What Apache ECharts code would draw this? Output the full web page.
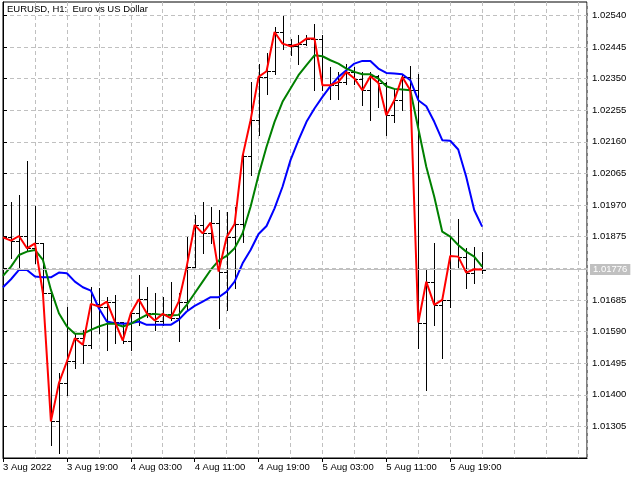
<!DOCTYPE html>
<html>
<head>
<meta charset="utf-8">
<script src="https://cdn.jsdelivr.net/npm/echarts@6/dist/echarts.min.js"></script>
<style>html,body{margin:0;padding:0;background:#fff;}#c{width:640px;height:480px;}</style>
</head>
<body>
<div id="c"></div>
<script>
// Hourly bars, index 0 = 3 Aug 2022 11:00
const barIndex = Array.from({length: 61}, (_, i) => i);
const opens = [1.01877,1.01873,1.01863,1.01877,1.01840,1.01855,1.01705,1.01320,1.01435,1.01500,1.01570,1.01550,1.01673,1.01665,1.01680,1.01620,1.01563,1.01645,1.01687,1.01645,1.01623,1.01643,1.01630,1.01680,1.01785,1.01910,1.01885,1.01917,1.01770,1.01873,1.01913,1.02117,1.02225,1.02355,1.02372,1.02490,1.02455,1.02447,1.02453,1.02470,1.02470,1.02330,1.02330,1.02340,1.02370,1.02350,1.02315,1.02357,1.02337,1.02240,1.02285,1.02355,1.02315,1.01617,1.01740,1.01670,1.01685,1.01817,1.01815,1.01767,1.01777];
const highs = [1.01880,1.01980,1.02000,1.02102,1.01967,1.01857,1.01705,1.01465,1.01665,1.01585,1.01595,1.01725,1.01720,1.01695,1.01700,1.01620,1.01650,1.01760,1.01725,1.01705,1.01695,1.01740,1.01705,1.01875,1.01940,1.01980,1.01965,1.01955,1.01950,1.01965,1.02125,1.02340,1.02395,1.02427,1.02505,1.02537,1.02470,1.02480,1.02480,1.02515,1.02480,1.02385,1.02370,1.02395,1.02385,1.02370,1.02370,1.02360,1.02340,1.02320,1.02360,1.02387,1.02365,1.01777,1.01857,1.01690,1.01870,1.01927,1.01840,1.01845,1.01828];
const lows = [1.01860,1.01810,1.01785,1.01835,1.01795,1.01655,1.01250,1.01225,1.01400,1.01480,1.01495,1.01540,1.01585,1.01535,1.01555,1.01555,1.01535,1.01610,1.01635,1.01595,1.01610,1.01625,1.01563,1.01655,1.01785,1.01825,1.01855,1.01600,1.01655,1.01720,1.01860,1.02060,1.02180,1.02305,1.02363,1.02440,1.02420,1.02395,1.02450,1.02315,1.02315,1.02290,1.02290,1.02335,1.02335,1.02270,1.02225,1.02265,1.02180,1.02220,1.02255,1.02310,1.01540,1.01415,1.01610,1.01510,1.01665,1.01785,1.01720,1.01735,1.01765];
const closes = [1.01873,1.01863,1.01877,1.01840,1.01855,1.01705,1.01320,1.01435,1.01500,1.01570,1.01550,1.01673,1.01665,1.01680,1.01620,1.01563,1.01645,1.01687,1.01645,1.01623,1.01643,1.01630,1.01680,1.01785,1.01910,1.01885,1.01917,1.01770,1.01873,1.01913,1.02117,1.02225,1.02355,1.02372,1.02490,1.02455,1.02447,1.02453,1.02470,1.02470,1.02330,1.02330,1.02340,1.02370,1.02350,1.02315,1.02357,1.02337,1.02240,1.02285,1.02355,1.02315,1.01617,1.01740,1.01670,1.01685,1.01817,1.01815,1.01767,1.01777,1.01776];
const maFast = [1.01757,1.01785,1.01820,1.01830,1.01835,1.01805,1.01715,1.01645,1.01605,1.01583,1.01583,1.01595,1.01605,1.01613,1.01613,1.01605,1.01613,1.01627,1.01640,1.01643,1.01640,1.01638,1.01640,1.01670,1.01705,1.01740,1.01775,1.01803,1.01817,1.01840,1.01885,1.01965,1.02060,1.02145,1.02220,1.02280,1.02320,1.02360,1.02390,1.02420,1.02417,1.02405,1.02395,1.02380,1.02370,1.02363,1.02363,1.02350,1.02327,1.02319,1.02317,1.02315,1.02200,1.02085,1.01995,1.01890,1.01875,1.01850,1.01830,1.01815,1.01785];
const maSlow = [1.01723,1.01747,1.01775,1.01775,1.01755,1.01753,1.01753,1.01767,1.01765,1.01740,1.01723,1.01713,1.01660,1.01620,1.01615,1.01613,1.01615,1.01620,1.01610,1.01610,1.01610,1.01610,1.01625,1.01650,1.01667,1.01680,1.01693,1.01693,1.01710,1.01740,1.01795,1.01835,1.01883,1.01907,1.01960,1.02025,1.02105,1.02165,1.02220,1.02260,1.02295,1.02327,1.02355,1.02375,1.02395,1.02403,1.02403,1.02380,1.02367,1.02365,1.02363,1.02345,1.02285,1.02267,1.02220,1.02165,1.02163,1.02137,1.02055,1.01955,1.01905];
const currentPrice = 1.01776;
const timeLabelIndex = [0, 8, 16, 24, 32, 40, 48, 56];
const timeLabels = ['3 Aug 2022', '3 Aug 19:00', '4 Aug 03:00', '4 Aug 11:00', '4 Aug 19:00', '5 Aug 03:00', '5 Aug 11:00', '5 Aug 19:00'];
const priceTicks = [1.01305, 1.01400, 1.01495, 1.01590, 1.01685, 1.01780, 1.01875, 1.01970, 1.02065, 1.02160, 1.02255, 1.02350, 1.02445, 1.02540];
const priceLabels = [1.01305, 1.01400, 1.01495, 1.01590, 1.01685, 1.01875, 1.01970, 1.02065, 1.02160, 1.02255, 1.02350, 1.02445, 1.02540];
const titleText = 'EURUSD, H1:  Euro vs US Dollar';

const FONT = 'Liberation Sans';
const ohlc = barIndex.map(i => [i, opens[i], highs[i], lows[i], closes[i]]);
const pair = arr => barIndex.map(i => [i, arr[i]]);

const chart = echarts.init(document.getElementById('c'), null, {renderer: 'canvas'});
chart.setOption({
  animation: false,
  backgroundColor: '#fff',
  title: {text: titleText, left: 7, top: 4, padding: 0, textStyle: {fontFamily: FONT, fontSize: 9.5, fontWeight: 'normal', color: '#000'}},
  grid: {left: 2, right: 53, top: 2, bottom: 22, show: true, borderColor: '#000', borderWidth: 1, backgroundColor: '#fff'},
  xAxis: [
    {type: 'value', min: 0, max: 73.125, interval: 4,
     axisLine: {show: false}, axisTick: {show: false}, axisLabel: {show: false},
     splitLine: {show: true, lineStyle: {color: '#c0c0c0', type: [4, 3], width: 1}}},
    {type: 'value', min: 0, max: 73.125, position: 'bottom',
     axisLine: {show: true, lineStyle: {color: '#000'}},
     axisTick: {show: true, length: 4, customValues: timeLabelIndex, lineStyle: {color: '#000'}},
     axisLabel: {show: true, customValues: timeLabelIndex, align: 'left', margin: 4, color: '#000', fontFamily: FONT, fontSize: 9.5,
       formatter: v => { const k = timeLabelIndex.indexOf(Math.round(v)); return k >= 0 ? timeLabels[k] : ''; }},
     splitLine: {show: false}}
  ],
  yAxis: {type: 'value', position: 'right', min: 1.01210, max: 1.02580,
    axisLine: {show: true, lineStyle: {color: '#000'}},
    axisTick: {show: true, length: 4, customValues: priceTicks, lineStyle: {color: '#000'}},
    axisLabel: {show: true, customValues: priceLabels, margin: 5, color: '#000', fontFamily: FONT, fontSize: 9.5,
      formatter: v => v.toFixed(5)},
    splitLine: {show: true, lineStyle: {color: '#c0c0c0', type: [4, 3], width: 1}}},
  series: [
    {type: 'custom', xAxisIndex: 0, clip: true, z: 2, data: ohlc,
     encode: {x: 0, y: [1, 2, 3, 4]},
     renderItem: (params, api) => {
       const i = api.value(0);
       const o = api.coord([i, api.value(1)]);
       const h = api.coord([i, api.value(2)]);
       const l = api.coord([i, api.value(3)]);
       const c = api.coord([i, api.value(4)]);
       const px = Math.round(o[0]) + 0.5;
       const oy = Math.round(o[1]) + 0.5, cy = Math.round(c[1]) + 0.5;
       const st = {stroke: '#000', lineWidth: 1};
       return {type: 'group', children: [
         {type: 'line', shape: {x1: px, y1: Math.round(h[1]), x2: px, y2: Math.round(l[1]) + 1}, style: st},
         {type: 'line', shape: {x1: px - 3.5, y1: oy, x2: px, y2: oy}, style: st},
         {type: 'line', shape: {x1: px, y1: cy, x2: px + 3.5, y2: cy}, style: st}
       ]};
     }},
    {type: 'line', xAxisIndex: 0, z: 3, data: pair(maSlow), showSymbol: false, symbol: 'none',
     lineStyle: {color: '#0000ff', width: 2},
     markLine: {silent: true, symbol: 'none', animation: false, precision: 5,
       data: [{yAxis: currentPrice}],
       lineStyle: {color: '#c0c0c0', type: 'solid', width: 1},
       label: {show: true, position: 'end', distance: 3, formatter: currentPrice.toFixed(5),
         backgroundColor: '#c0c0c0', color: '#fff', padding: [1, 3, 0, 3], fontFamily: FONT, fontSize: 9.5}}},
    {type: 'line', xAxisIndex: 0, z: 4, data: pair(maFast), showSymbol: false, symbol: 'none',
     lineStyle: {color: '#008000', width: 2}},
    {type: 'line', xAxisIndex: 0, z: 5, data: pair(closes), showSymbol: false, symbol: 'none',
     lineStyle: {color: '#ff0000', width: 2}}
  ]
});
</script>
</body>
</html>
